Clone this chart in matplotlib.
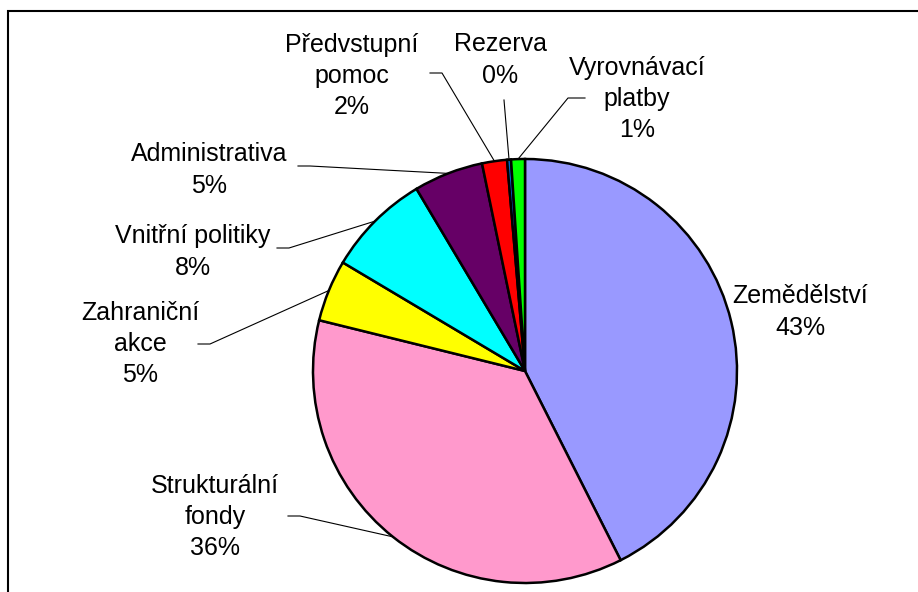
import numpy as np
import matplotlib
matplotlib.use("Agg")
import matplotlib.pyplot as plt
from matplotlib.patches import Rectangle

plt.rcParams['font.family'] = ['Liberation Sans', 'DejaVu Sans']

# data
categories = ["Zemědělství", "Strukturální\nfondy", "Zahraniční\nakce", "Vnitřní politiky",
              "Administrativa", "Předvstupní\npomoc", "Rezerva", "Vyrovnávací\nplatby"]
values = [42.55, 36.3, 4.7, 7.9, 5.3, 1.9, 0.3, 1.05]
colors = ["#9999FF", "#FF99CC", "#FFFF00", "#00FFFF", "#660066", "#FF0000", "#0066CC", "#00FF00"]

# label placement in pixels (text centre, leader start, leader elbow)
W, H = 918, 592
cx, cy, r = 525, 371, 212
label_pos = [(800, 312), (215, 517), (140, 344), (193, 252), (209, 170), (352, 76), (500, 60), (637, 99)]
leader = [None, [(288, 516), (300, 516)], [(198, 344), (210, 344)], [(277, 248), (289, 248)],
          [(298, 166), (310, 166)], [(430, 73), (442, 73)], [(504, 100)], [(585, 98), (568, 98)]]

fig = plt.figure(figsize=(W / 100, H / 100), dpi=100)
ax = fig.add_axes([(cx - r) / W, (H - cy - r) / H, 2 * r / W, 2 * r / H])

wedges, _ = ax.pie(values, colors=colors, startangle=90, counterclock=False, radius=1,
                   wedgeprops=dict(edgecolor="black", linewidth=1.8))
ax.set_xlim(-1, 1)
ax.set_ylim(-1, 1)
ax.set_aspect("equal")
ax.axis("off")

def to_data(p):
    return (p[0] - cx) / r, (cy - p[1]) / r

total = sum(values)
for i, w in enumerate(wedges):
    pct = round(values[i] / total * 100)
    tx, ty = to_data(label_pos[i])
    ax.text(tx, ty, f"{categories[i]}\n{pct}%", ha="center", va="center",
            fontsize=18, linespacing=1.37, clip_on=False)
    if leader[i]:
        mid = np.deg2rad((w.theta1 + w.theta2) / 2)
        pts = [to_data(p) for p in leader[i]] + [(np.cos(mid), np.sin(mid))]
        xs, ys = zip(*pts)
        ax.plot(xs, ys, color="black", linewidth=0.8, clip_on=False)

# chart area border
fig.add_artist(Rectangle((8 / W, -0.1), 1.2, 1.1 - 11 / H, transform=fig.transFigure,
                         fill=False, edgecolor="black", linewidth=1.5))

fig.savefig("out.png", dpi=100)
